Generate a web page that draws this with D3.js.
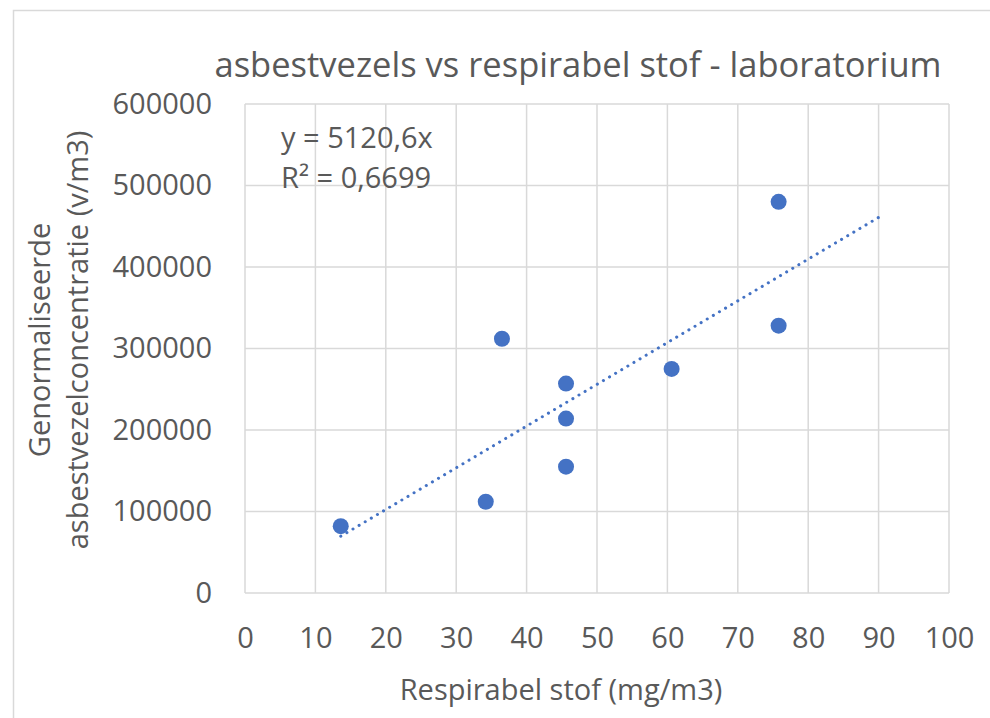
<!DOCTYPE html>
<html>
<head>
<meta charset="utf-8">
<script src="https://cdn.jsdelivr.net/npm/d3@7"></script>
<style>
  body { margin: 0; background: #fff; }
  text { font-family: "Open Sans", "Noto Sans", sans-serif; fill: #595959; }
</style>
</head>
<body>
<svg id="chart" width="990" height="718"></svg>
<script>
// data
const stof = [13.6, 34.2, 36.5, 45.6, 45.6, 45.6, 60.6, 75.8, 75.8];
const asbest = [82000, 112000, 312000, 257000, 214000, 155000, 275000, 480000, 328000];
const xTicks = [0, 10, 20, 30, 40, 50, 60, 70, 80, 90, 100];
const yTicks = [0, 100000, 200000, 300000, 400000, 500000, 600000];
const slope = 5120.6;
const trendRange = [13.6, 90.6];
const equation = ["y = 5120,6x", "R² = 0,6699"];

const svg = d3.select("#chart");
const width = 990;
const height = 718;

// plot area
const plot = { left: 245, right: 949, top: 104, bottom: 593 };

const x = d3.scaleLinear().domain([0, 100]).range([plot.left, plot.right]);
const y = d3.scaleLinear().domain([0, 600000]).range([plot.bottom, plot.top]);

const labelSize = 29;

// chart border
svg.append("rect")
  .attr("x", 13.5)
  .attr("y", 10.5)
  .attr("width", width + 10)
  .attr("height", height + 10)
  .attr("fill", "none")
  .attr("stroke", "#d9d9d9")
  .attr("stroke-width", 1.5);

// Title
svg.append("text")
  .attr("x", 578)
  .attr("y", 77)
  .attr("text-anchor", "middle")
  .attr("font-size", 34.5)
  .text("asbestvezels vs respirabel stof - laboratorium");

// grid lines
const gridColor = "#d9d9d9";
svg.append("g")
  .selectAll("line")
  .data(xTicks)
  .join("line")
  .attr("x1", (d) => x(d))
  .attr("x2", (d) => x(d))
  .attr("y1", plot.top)
  .attr("y2", plot.bottom)
  .attr("stroke", gridColor)
  .attr("stroke-width", 1.5);

svg.append("g")
  .selectAll("line")
  .data(yTicks)
  .join("line")
  .attr("x1", plot.left)
  .attr("x2", plot.right)
  .attr("y1", (d) => y(d))
  .attr("y2", (d) => y(d))
  .attr("stroke", gridColor)
  .attr("stroke-width", 1.5);

// axes (labels only, Excel style)
const xAxis = svg.append("g")
  .attr("transform", `translate(0, ${plot.bottom})`)
  .call(d3.axisBottom(x).tickValues(xTicks).tickSize(0).tickPadding(34));
xAxis.select(".domain").remove();

const yAxis = svg.append("g")
  .attr("transform", `translate(${plot.left}, 0)`)
  .call(d3.axisLeft(y).tickValues(yTicks).tickSize(0).tickPadding(33).tickFormat(d3.format("d")));
yAxis.select(".domain").remove();

xAxis.attr("font-family", null).attr("font-size", labelSize);
yAxis.attr("font-family", null).attr("font-size", labelSize);
svg.selectAll(".tick text").attr("fill", null);

// axis titles
svg.append("text")
  .attr("x", 561)
  .attr("y", 700)
  .attr("text-anchor", "middle")
  .attr("font-size", labelSize)
  .text("Respirabel stof (mg/m3)");

const yTitle = svg.append("text")
  .attr("transform", "translate(0, 340) rotate(-90)")
  .attr("text-anchor", "middle")
  .attr("font-size", labelSize);
yTitle.append("tspan").attr("x", 0).attr("y", 50).text("Genormaliseerde");
yTitle.append("tspan").attr("x", 0).attr("y", 88).text("asbestvezelconcentratie (v/m3)");

// trend line
const trendLine = d3.line()
  .x((d) => x(d))
  .y((d) => y(slope * d));
svg.append("path")
  .datum(trendRange)
  .attr("d", trendLine)
  .attr("fill", "none")
  .attr("stroke", "#4472c4")
  .attr("stroke-width", 3)
  .attr("stroke-linecap", "round")
  .attr("stroke-dasharray", "0.1 7");

// points
svg.append("g")
  .selectAll("circle")
  .data(stof.map((d, i) => [d, asbest[i]]))
  .join("circle")
  .attr("cx", (d) => x(d[0]))
  .attr("cy", (d) => y(d[1]))
  .attr("r", 8)
  .attr("fill", "#4472c4");

// equation label
svg.append("g")
  .selectAll("text")
  .data(equation)
  .join("text")
  .attr("x", 281)
  .attr("y", (d, i) => 148 + i * 40)
  .attr("font-size", labelSize)
  .text((d) => d);
</script>
</body>
</html>
